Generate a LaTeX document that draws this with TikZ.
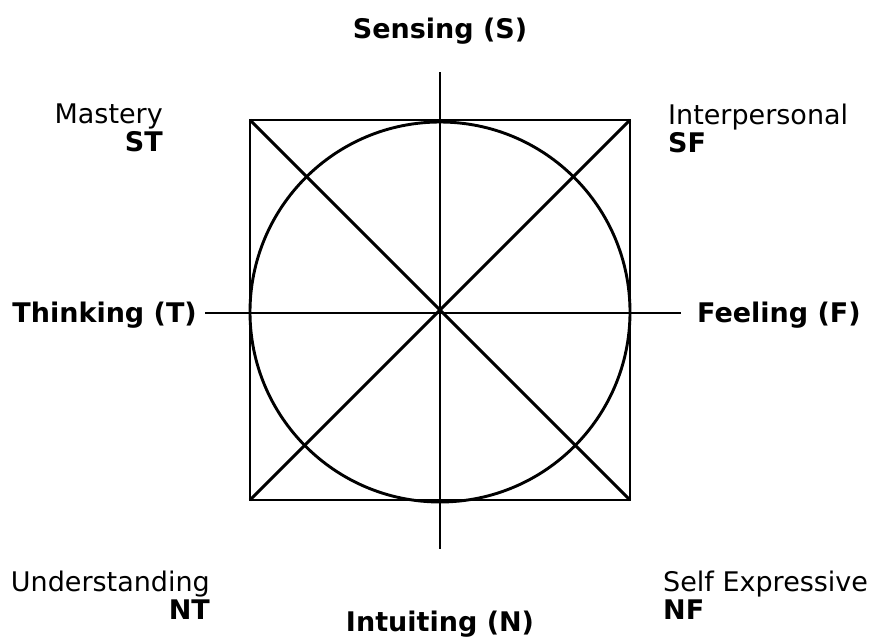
\documentclass[tikz,border=0pt]{standalone}
\usepackage{fontspec}
\setmainfont{DejaVu Sans}
\begin{document}
\begin{tikzpicture}[x=1pt,y=-1pt,
  lbl/.style={inner sep=0pt,font=\fontsize{27}{28}\selectfont},
  blbl/.style={lbl,font=\fontsize{27}{28}\selectfont\bfseries},
  ln/.style={line width=2.9pt,black}]
\useasboundingbox (0,0) rectangle (872,638);
% square corners and center
\coordinate (tl) at (250,120);
\coordinate (tr) at (630,120);
\coordinate (br) at (630,500);
\coordinate (bl) at (250,500);
\coordinate (c) at (440,312);
\coordinate (vt) at (440,72);
\coordinate (vb) at (440,549);
\coordinate (hl) at (205,313);
\coordinate (hr) at (681,313);
% shapes
\draw[ln] (tl) -- (tr) -- (br) -- (bl) -- cycle;
\draw[ln] (c) circle[radius=190];
\draw[ln] (tl) -- (br);
\draw[ln] (tr) -- (bl);
\draw[ln] (vt) -- (vb);
\draw[ln] (hl) -- (hr);
% labels
\node[blbl] (S) at (440,31) {Sensing (S)};
\node[blbl] (N) at (440,624) {Intuiting (N)};
\node[blbl,anchor=east] (T) at (197,315) {Thinking (T)};
\node[blbl,anchor=west] (F) at (697,315) {Feeling (F)};
\node[lbl,anchor=east,align=right] (ST) at (163,128) {Mastery\\\textbf{ST}};
\node[lbl,anchor=west,align=left] (SF) at (668,128) {Interpersonal\\\textbf{SF}};
\node[lbl,anchor=east,align=right] (NT) at (210,595) {Understanding\\\textbf{NT}};
\node[lbl,anchor=west,align=left] (NF) at (663,595) {Self Expressive\\\textbf{NF}};
\end{tikzpicture}
\end{document}
